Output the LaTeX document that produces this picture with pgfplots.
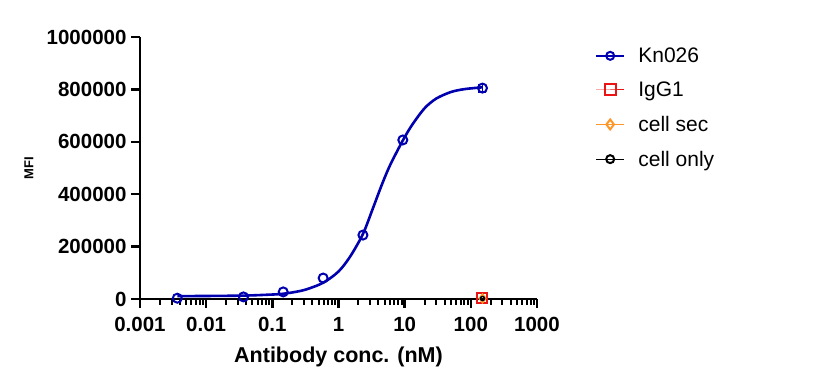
\documentclass[border=0pt]{standalone}
\usepackage{pgfplots}
\pgfplotsset{compat=1.18}
\usepackage{fontspec}
\setmainfont{Liberation Sans}
\definecolor{kblue}{RGB}{0,0,175}
\definecolor{kred}{RGB}{235,20,20}
\definecolor{korange}{RGB}{255,150,40}
\begin{document}
\begin{tikzpicture}[x=1pt,y=1pt]
\useasboundingbox (-140pt,-91pt) rectangle (679pt,299pt);
\begin{axis}[
  at={(0pt,0pt)}, anchor=south west,
  scale only axis, width=397pt, height=262pt,
  xmode=log, xmin=0.001, xmax=1000,
  ymin=0, ymax=1000000,
  axis x line*=bottom, axis y line*=left,
  axis line style={line width=2.8pt},
  every tick/.style={black, line width=2.4pt},
  minor tick style={line width=2pt},
  tick align=outside,
  major tick length=9pt, minor tick length=6pt,
  xtick={0.001,0.01,0.1,1,10,100,1000},
  xticklabels={0.001,0.01,0.1,1,10,100,1000},
  ytick={0,200000,400000,600000,800000,1000000},
  yticklabels={0,200000,400000,600000,800000,1000000},
  scaled y ticks=false,
  tick label style={font=\fontsize{20.5}{24}\selectfont\bfseries},
  xticklabel style={yshift=-6pt},
  yticklabel style={xshift=-1pt},
  xlabel={Antibody conc. (nM)},
  xlabel style={font=\fontsize{21.5}{25}\selectfont\bfseries, at={(axis description cs:0.5,0)}, yshift=-58pt, anchor=center},
  ylabel={MFI},
  ylabel style={font=\fontsize{13}{15}\selectfont\bfseries, at={(axis description cs:-0.28,0.5)}, anchor=center},
  clip=false,
  legend style={at={(axis description cs:1.138,0.975)}, anchor=north west, draw=none, fill=none,
    font=\fontsize{21}{24}\selectfont, row sep=14pt, nodes={inner xsep=13pt}},
  legend cell align=left,
  legend image code/.code={\draw[mark repeat=2,mark phase=2] plot coordinates {(0pt,0pt)(14pt,0pt)(28pt,0pt)};},
]
% fitted curve
\addplot[kblue, line width=2.6pt, smooth, tension=0.5, forget plot] coordinates {
 (0.00366,11000) (0.01,11500) (0.0366,13000) (0.08,16000) (0.146,20000) (0.3,34000) (0.586,62000)
 (1,105000) (1.5,162000) (2.34,248000) (3.3,345000) (4.5,435000) (6,510000)
 (9.375,605000) (13,665000) (20,728000) (30,765000) (50,790000) (80,801000) (150,808000)};
\addplot[kblue, line width=2pt, only marks, mark=o, mark size=4.5pt, forget plot] coordinates {
 (0.00366,3000) (0.0366,8000) (0.146,27000)
 (0.586,80000) (2.34,244000) (9.375,607000)};
\addplot[kblue, line width=2pt, only marks, mark=o, mark size=4.5pt, forget plot,
  error bars/.cd, y dir=both, y explicit, error bar style={line width=1.5pt}, error mark options={rotate=90, mark size=4pt, line width=1.5pt}] coordinates {
 (150,805000) +- (0,14000)};
\addplot[kred, line width=2pt, only marks, mark=square, mark size=5pt, forget plot] coordinates {(150,2000)};
\addplot[korange, line width=2pt, only marks, mark=diamond, mark size=4pt, forget plot] coordinates {(150,2000)};
\addplot[black, line width=1.5pt, only marks, mark=o, mark size=2pt, forget plot] coordinates {(150,2000)};
\addlegendimage{kblue, line width=2.4pt, mark=o, mark size=4pt, mark options={line width=2pt}}
\addlegendentry{Kn026}
\addlegendimage{kred, line width=1pt, mark=square, mark size=5.5pt, mark options={line width=2pt}}
\addlegendentry{IgG1}
\addlegendimage{korange, line width=1pt, mark=diamond, mark size=5pt, mark options={line width=2pt}}
\addlegendentry{cell sec}
\addlegendimage{black, line width=1pt, mark=o, mark size=4pt, mark options={line width=2pt}}
\addlegendentry{cell only}
\end{axis}
\end{tikzpicture}
\end{document}
